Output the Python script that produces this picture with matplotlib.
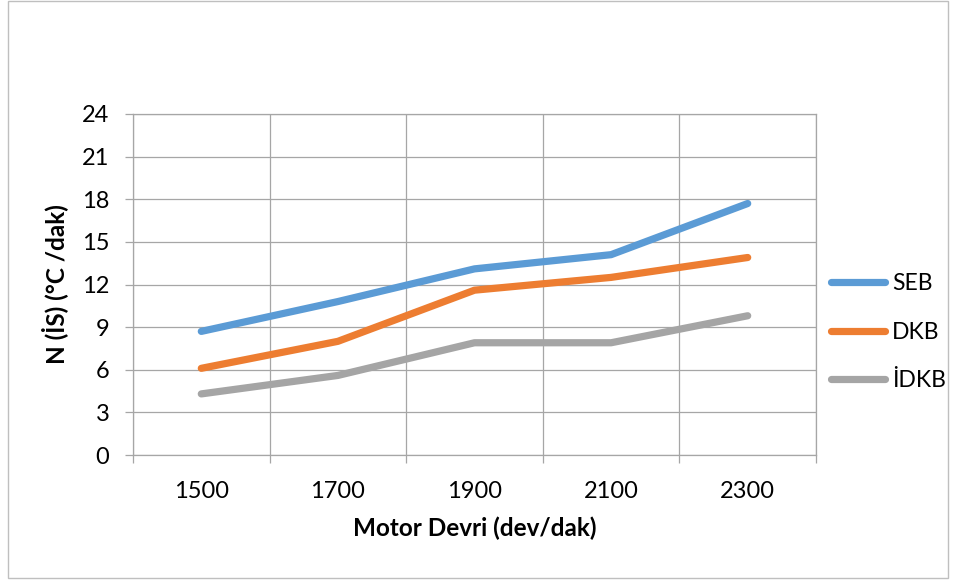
import matplotlib
matplotlib.use("Agg")
import matplotlib.pyplot as plt
from matplotlib.patches import Rectangle

plt.rcParams['font.family'] = ['Lato', 'DejaVu Sans']

# Engine speed categories and series values
rpm = ["1500", "1700", "1900", "2100", "2300"]
seb = [8.7, 10.8, 13.1, 14.1, 17.7]
dkb = [6.1, 8.0, 11.6, 12.5, 13.9]
idkb = [4.3, 5.6, 7.9, 7.9, 9.8]
y_ticks = [0, 3, 6, 9, 12, 15, 18, 21, 24]

series = [("SEB", seb, "#5B9BD5"), ("DKB", dkb, "#ED7D31"), ("İDKB", idkb, "#A5A5A5")]
grid_c = "#A6A6A6"

W, H = 960, 581
fig = plt.figure(figsize=(W / 100, H / 100), dpi=100)
fig.patch.set_facecolor("white")

# outer chart-area border
fig.add_artist(Rectangle((8 / W, 3 / H), 940 / W, 577 / H, transform=fig.transFigure,
                         fill=False, edgecolor="#BFBFBF", linewidth=1.0))

L, R, T, B = 133, 816, 114, 455
ax = fig.add_axes([L / W, 1 - B / H, (R - L) / W, (B - T) / H])

x = list(range(len(rpm)))
for name, vals, col in series:
    ax.plot(x, vals, color=col, linewidth=5.2, solid_capstyle="round",
            solid_joinstyle="round", label=name, zorder=3)

ax.set_xlim(-0.5, len(rpm) - 0.5)
ax.set_ylim(0, 24)
ax.set_yticks(y_ticks)
ax.set_xticks(x)
ax.set_xticklabels(rpm)
ax.set_xticks([i - 0.5 for i in range(len(rpm) + 1)], minor=True)

ax.grid(True, axis="y", which="major", color=grid_c, linewidth=0.9, zorder=0)
ax.grid(True, axis="x", which="minor", color=grid_c, linewidth=0.9, zorder=0)

ax.tick_params(axis="x", which="major", length=0, pad=19, labelsize=17, colors="black")
ax.tick_params(axis="x", which="minor", length=6, width=0.9, color=grid_c, direction="out")
ax.tick_params(axis="y", which="major", length=6, width=0.9, color=grid_c, pad=11,
               labelsize=17, labelcolor="black", direction="out")

for s in ["top", "right", "left", "bottom"]:
    ax.spines[s].set_color(grid_c)
    ax.spines[s].set_linewidth(0.9)

ax.set_xlabel("Motor Devri (dev/dak)", fontsize=17.5, fontweight="bold", labelpad=10)
ax.set_ylabel("N (İS) (°C /dak)", fontsize=17.5, fontweight="bold", labelpad=10)

fig.legend(loc="upper left", bbox_to_anchor=(822 / W, 1 - 264 / H), frameon=False,
           fontsize=16.5, handlelength=2.35, handletextpad=0.3, labelspacing=1.2,
           borderaxespad=0)

fig.savefig("out.png", dpi=100, facecolor="white")
